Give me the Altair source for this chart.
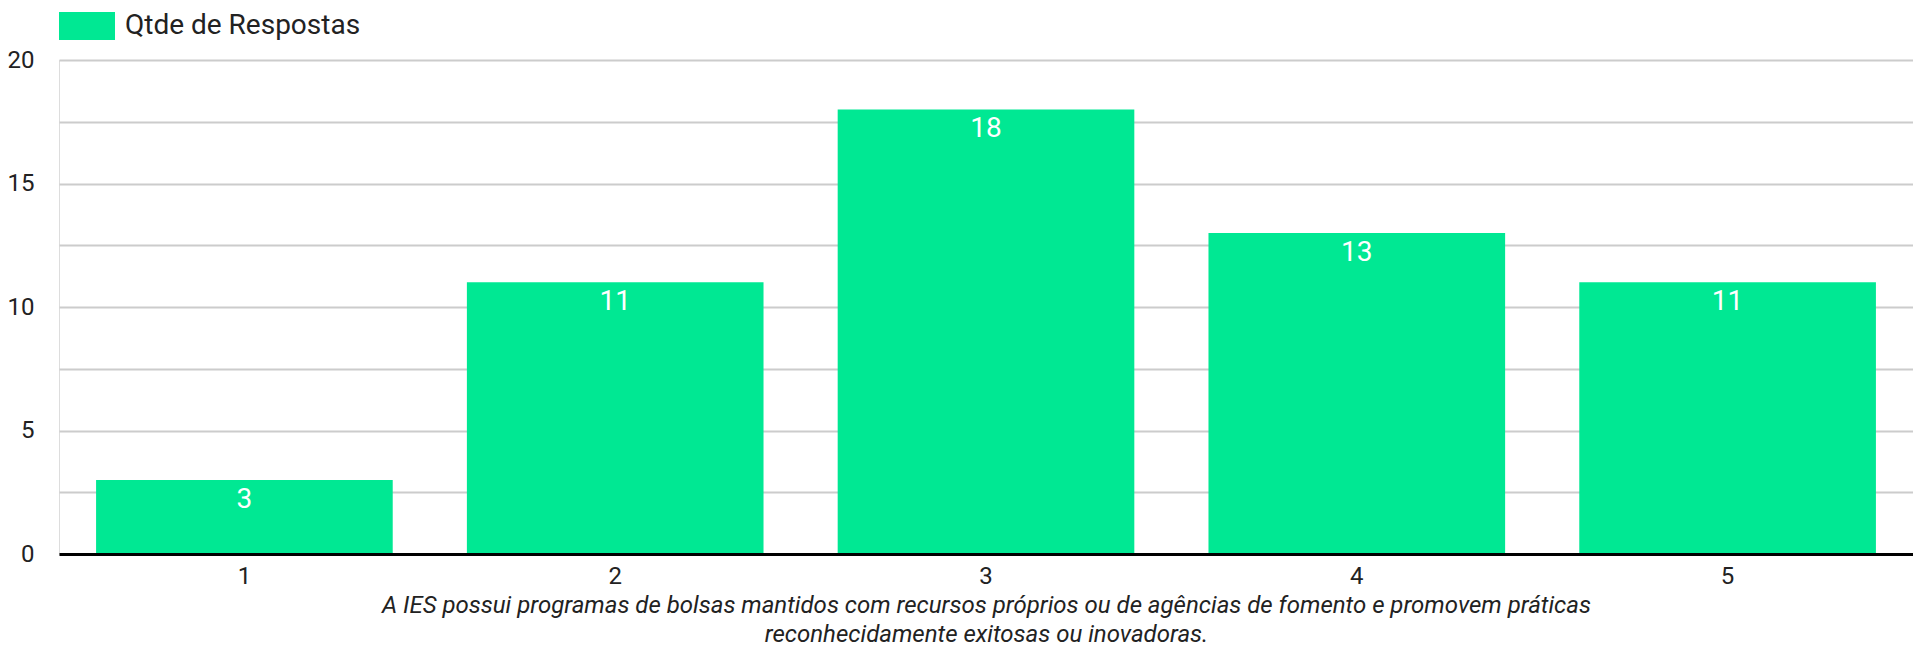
import altair as alt
import pandas as pd

categories = ["1", "2", "3", "4", "5"]
counts = [3, 11, 18, 13, 11]
series_name = "Qtde de Respostas"
y_grid_values = [0, 2.5, 5, 7.5, 10, 12.5, 15, 17.5, 20]
x_title = [
    "A IES possui programas de bolsas mantidos com recursos próprios ou de agências de fomento e promovem práticas",
    "reconhecidamente exitosas ou inovadoras.",
]

GREEN = "#00e893"
FONT = "Roboto"

df = pd.DataFrame({"cat": categories, "count": counts, "serie": [series_name] * len(categories)})

x_enc = alt.X(
    "cat:N",
    sort=categories,
    scale=alt.Scale(paddingInner=0.2, paddingOuter=0.1),
    axis=alt.Axis(
        title=x_title,
        labelAngle=0,
        labelFont=FONT,
        labelFontSize=24,
        labelColor="#222222",
        labelPadding=10,
        ticks=False,
        domain=True,
        domainColor="#000000",
        domainWidth=3,
        titleFont=FONT,
        titleFontSize=24,
        titleFontStyle="italic",
        titleFontWeight="normal",
        titleColor="#222222",
        titlePadding=5,
        titleLineHeight=29,
        zindex=1,
    ),
)

y_enc = alt.Y(
    "count:Q",
    scale=alt.Scale(domain=[0, 20], nice=False),
    axis=alt.Axis(
        title=None,
        values=y_grid_values,
        labelExpr="datum.value % 5 == 0 ? datum.label : ''",
        labelFont=FONT,
        labelFontSize=24,
        labelColor="#222222",
        labelPadding=25,
        ticks=False,
        domain=False,
        grid=True,
        gridColor="#cccccc",
        gridWidth=2,
    ),
)

bars = alt.Chart(df).mark_bar().encode(
    x=x_enc,
    y=y_enc,
    color=alt.Color(
        "serie:N",
        scale=alt.Scale(range=[GREEN]),
        legend=alt.Legend(
            title=None,
            orient="none",
            legendX=0,
            legendY=-62,
            symbolType="M-1,-0.5H1V0.5H-1Z",
            symbolSize=3136,
            symbolStrokeWidth=0,
            symbolOpacity=1,
            labelFont=FONT,
            labelFontSize=28,
            labelColor="#222222",
            labelOffset=10,
            labelLimit=0,
        ),
    ),
)

labels = alt.Chart(df).mark_text(
    dy=20, baseline="middle", align="center", color="white", font=FONT, fontSize=28
).encode(
    x=alt.X("cat:N", sort=categories),
    y=alt.Y("count:Q"),
    text=alt.Text("count:Q"),
)

chart = (
    alt.layer(bars, labels)
    .properties(
        width=1854,
        height=494,
        autosize=alt.AutoSizeParams(type="none"),
        padding={"left": 51, "top": 52, "right": 0, "bottom": 92},
    )
    .configure_view(stroke=None)
    .configure(background="white")
)

chart.save("out.html", embed_options={"renderer": "svg", "actions": False})
